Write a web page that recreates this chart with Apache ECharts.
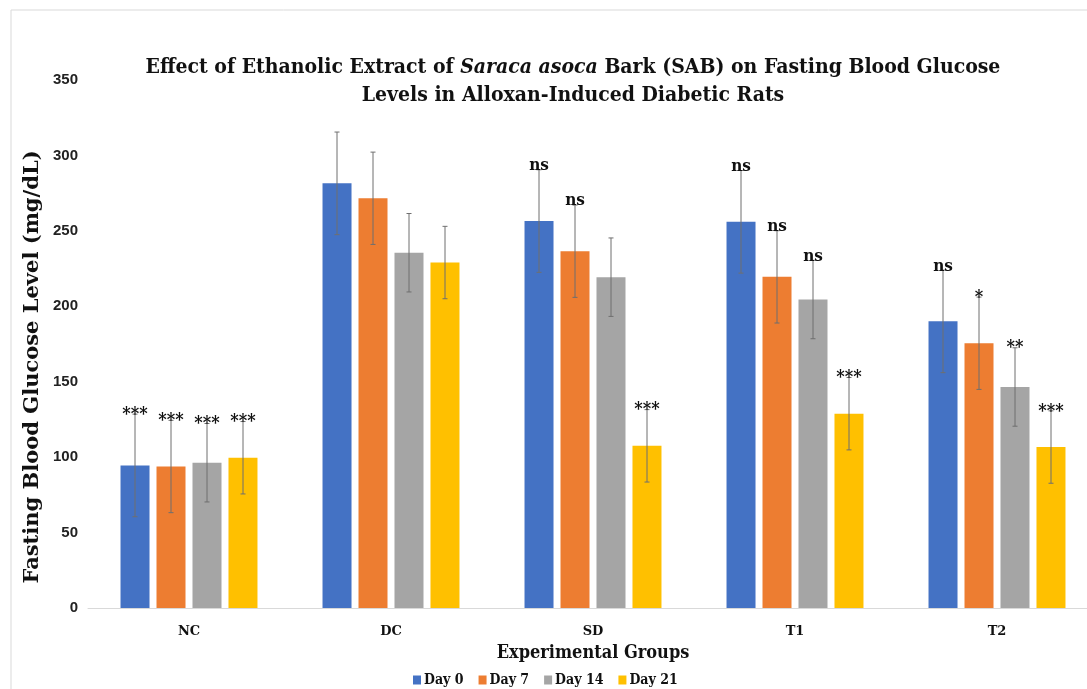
<!DOCTYPE html>
<html>
<head>
<meta charset="utf-8">
<script src="https://cdn.jsdelivr.net/npm/echarts@6/dist/echarts.min.js"></script>
<style>
  html, body { margin: 0; padding: 0; background: #fff; overflow: hidden; }
  #chart { width: 1100px; height: 689px; }
</style>
</head>
<body>
<div id="chart"></div>
<script>
// Groups and sampling days
const groups = ['NC', 'DC', 'SD', 'T1', 'T2'];
const days = ['Day 0', 'Day 7', 'Day 14', 'Day 21'];

// Mean fasting blood glucose (mg/dL)
const day0 = [94.5, 281.5, 256.5, 256.0, 190.0];
const day7 = [93.8, 271.6, 236.5, 219.5, 175.5];
const day14 = [96.3, 235.5, 219.3, 204.5, 146.5];
const day21 = [99.6, 229.0, 107.5, 128.8, 106.7];

// Standard deviations (error bars)
const sd0 = [34, 34, 34, 34, 34];
const sd7 = [30.6, 30.6, 30.6, 30.6, 30.6];
const sd14 = [26, 26, 26, 26, 26];
const sd21 = [24, 24, 24, 24, 24];

// Significance marks above error bars
const sig0 = ['***', '', 'ns', 'ns', 'ns'];
const sig7 = ['***', '', 'ns', 'ns', '*'];
const sig14 = ['***', '', '', 'ns', '**'];
const sig21 = ['***', '', '***', '***', '***'];

const yTicks = [0, 50, 100, 150, 200, 250, 300, 350];
const yTitle = 'Fasting Blood Glucose Level (mg/dL)';

const colors = ['#4472C4', '#ED7D31', '#A5A5A5', '#FFC000'];
const means = [day0, day7, day14, day21];
const sds = [sd0, sd7, sd14, sd21];
const sigs = [sig0, sig7, sig14, sig21];

const SERIF_C = "'DejaVu Serif Condensed', 'DejaVu Serif', serif";
const SERIF = "'DejaVu Serif', serif";
const NARROW = "'Liberation Sans Narrow', 'Liberation Sans', sans-serif";

const BAR_W = 29;
const BAR_GAP = 7;

function errorSeries(k) {
  const offset = (k - 1.5) * (BAR_W + BAR_GAP);
  return {
    type: 'custom',
    z: 5,
    data: groups.map((g, i) => [i, means[k][i], sds[k][i]]),
    encode: { x: 0, y: 1 },
    renderItem: function (params, api) {
      const i = api.value(0);
      const v = api.value(1);
      const sd = api.value(2);
      const sig = sigs[k][i];
      const x = api.coord([i, v])[0] + offset;
      const yHi = api.coord([i, v + sd])[1];
      const yLo = api.coord([i, v - sd])[1];
      const ls = { stroke: '#6f6f6f', lineWidth: 1 };
      const children = [
        { type: 'line', shape: { x1: x, y1: yHi, x2: x, y2: yLo }, style: ls },
        { type: 'line', shape: { x1: x - 2.5, y1: yHi, x2: x + 2.5, y2: yHi }, style: ls },
        { type: 'line', shape: { x1: x - 2.5, y1: yLo, x2: x + 2.5, y2: yLo }, style: ls }
      ];
      if (sig) {
        const isStar = sig.indexOf('*') >= 0;
        children.push({
          type: 'text',
          style: {
            text: sig,
            x: x,
            y: isStar ? yHi + 1 : yHi - 4,
            textAlign: 'center',
            textVerticalAlign: 'middle',
            font: isStar ? "bold 18px " + SERIF_C : "bold 17px " + SERIF_C,
            fill: '#111'
          }
        });
      }
      return { type: 'group', children: children };
    }
  };
}

const barSeries = days.map((d, k) => ({
  name: d,
  type: 'bar',
  data: means[k],
  barWidth: BAR_W,
  barGap: (BAR_GAP / BAR_W * 100).toFixed(1) + '%',
  itemStyle: { color: colors[k] }
}));

const chart = echarts.init(document.getElementById('chart'), null, { renderer: 'canvas' });

chart.setOption({
  animation: false,
  backgroundColor: '#ffffff',
  color: colors,
  graphic: [{
    type: 'rect',
    shape: { x: 11, y: 10, width: 1200, height: 800 },
    style: { fill: 'none', stroke: '#d9d9d9', lineWidth: 1 },
    silent: true,
    z: -10
  }, {
    // vertical axis title
    type: 'text',
    x: 33,
    y: 367,
    rotation: Math.PI / 2,
    style: {
      text: yTitle,
      textAlign: 'center',
      textVerticalAlign: 'middle',
      font: "bold 21px " + SERIF,
      fill: '#111'
    },
    silent: true
  }],
  title: {
    left: 568,
    top: 49,
    textAlign: 'center',
    text: 'Effect of Ethanolic Extract of {i|Saraca asoca} Bark (SAB) on Fasting Blood Glucose\nLevels in Alloxan-Induced Diabetic Rats',
    textStyle: {
      fontFamily: SERIF_C,
      fontWeight: 'bold',
      fontSize: 21,
      lineHeight: 28,
      color: '#111',
      rich: {
        i: { fontFamily: SERIF_C, fontWeight: 'bold', fontStyle: 'italic', fontSize: 21, lineHeight: 28, color: '#111' }
      }
    }
  },
  legend: {
    data: days,
    left: 408,
    top: 668,
    itemWidth: 8,
    itemHeight: 9,
    itemGap: 15,
    icon: 'rect',
    textStyle: { fontFamily: SERIF_C, fontWeight: 'bold', fontSize: 14, color: '#111', padding: [0, 0, 0, -2] }
  },
  grid: { left: 88, top: 80, right: 2, height: 528, containLabel: false },
  xAxis: {
    type: 'category',
    data: groups,
    name: 'Experimental Groups',
    nameLocation: 'middle',
    nameGap: 36,
    nameTextStyle: { fontFamily: SERIF_C, fontWeight: 'bold', fontSize: 18, color: '#111' },
    axisLine: { lineStyle: { color: '#d9d9d9', width: 1 } },
    axisTick: { show: false },
    axisLabel: { margin: 17, fontFamily: SERIF, fontWeight: 'bold', fontSize: 13, color: '#111' }
  },
  yAxis: {
    type: 'value',
    min: yTicks[0],
    max: yTicks[yTicks.length - 1],
    interval: 50,
    axisLine: { show: false },
    axisTick: { show: false },
    splitLine: { show: false },
    axisLabel: { margin: 10, fontFamily: NARROW, fontWeight: 'bold', fontSize: 15, color: '#222' }
  },
  series: barSeries.concat(days.map((d, k) => errorSeries(k)))
});
</script>
</body>
</html>
